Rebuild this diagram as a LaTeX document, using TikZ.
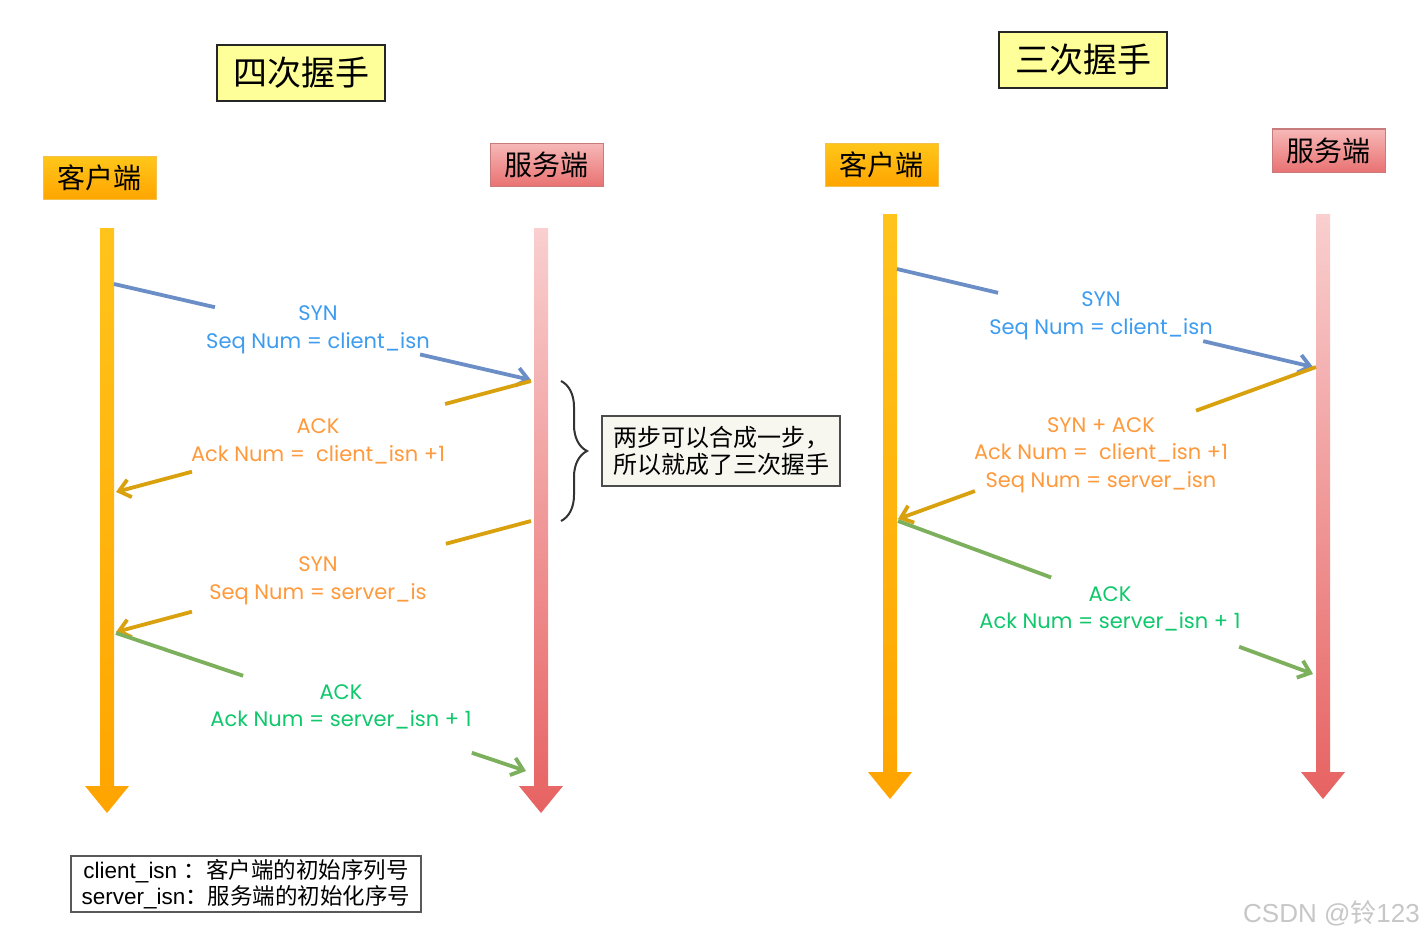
\documentclass[tikz,border=0pt]{standalone}
\usepackage{fontspec}
\setmainfont{Liberation Sans}
\newfontfamily\cjk{Noto Sans CJK SC}
\newfontfamily\hand{Poppins}
\usetikzlibrary{arrows.meta,decorations.pathreplacing,calc}
\definecolor{titley}{HTML}{FFFF99}
\definecolor{cltop}{HTML}{FFC61A}
\definecolor{clbot}{HTML}{FFA500}
\definecolor{clborder}{HTML}{F2C14E}
\definecolor{svtop}{HTML}{F7B8B8}
\definecolor{svbot}{HTML}{E97272}
\definecolor{svborder}{HTML}{C77B7B}
\definecolor{lltop}{HTML}{FFC41C}
\definecolor{llbot}{HTML}{FFA400}
\definecolor{sltop}{HTML}{F9CFCF}
\definecolor{slbot}{HTML}{E76262}
\definecolor{bline}{HTML}{6C8EC6}
\definecolor{btext}{HTML}{3D9CF0}
\definecolor{oline}{HTML}{D9A10E}
\definecolor{otext}{HTML}{FF9A3C}
\definecolor{gline}{HTML}{7DB05C}
\definecolor{gtext}{HTML}{10C86C}
\definecolor{notefill}{HTML}{F7F7F0}
\newcommand\lifelinearrow[6]{%
  \shade[top color=#5, bottom color=#6] (#1-7,#2) -- (#1+7,#2) -- (#1+7,#3) -- (#1+22,#3) -- (#1,#4) -- (#1-22,#3) -- (#1-7,#3) -- cycle;}
\tikzset{
  titlebox/.style={draw=black!85, line width=1.3pt, fill=titley, minimum width=168, minimum height=56, inner sep=0pt, font=\cjk\fontsize{34}{38}\selectfont},
  clientbox/.style={draw=clborder, line width=1pt, top color=cltop, bottom color=clbot, minimum width=113, minimum height=43, inner sep=0pt, font=\cjk\fontsize{28}{32}\selectfont},
  serverbox/.style={draw=svborder, line width=1pt, top color=svtop, bottom color=svbot, minimum width=113, minimum height=43, inner sep=0pt, font=\cjk\fontsize{28}{32}\selectfont},
  msg/.style={line width=3.8pt},
  tip/.style={-{Straight Barb[length=11pt,width=18pt]}},
  lbl/.style={align=center, inner sep=0pt, font=\hand\fontsize{21}{27.5}\selectfont},
  notebox/.style={draw=black!70, line width=1.2pt, fill=notefill, align=left, minimum width=238, minimum height=70, inner xsep=11pt, font=\cjk\fontsize{24}{27}\selectfont},
  legendbox/.style={draw=black!65, line width=1.2pt, fill=white, align=center, minimum width=350, minimum height=56, inner sep=0pt, font=\fontsize{22.5}{26}\selectfont},
  bracestyle/.style={decorate, decoration={brace, amplitude=26pt}, line width=2pt, draw=black!80}
}
\begin{document}
\begin{tikzpicture}[x=1pt,y=-1pt]
\useasboundingbox (0,0) rectangle (1423,939);
\fill[white] (0,0) rectangle (1423,939);

% titles and actor boxes
\node[titlebox] (t4) at (301,73) {四次握手};
\node[titlebox] (t3) at (1083,60) {三次握手};
\node[clientbox] (cl1) at (99.5,178) {客户端};
\node[serverbox] (sv1) at (546.5,164.5) {服务端};
\node[clientbox] (cl2) at (881.5,164.5) {客户端};
\node[serverbox] (sv2) at (1328.5,150.5) {服务端};

% lifelines
\lifelinearrow{107}{228}{786}{813}{lltop}{llbot}
\lifelinearrow{541}{228}{786}{813}{sltop}{slbot}
\lifelinearrow{890}{214}{772}{799}{lltop}{llbot}
\lifelinearrow{1323}{214}{772}{799}{sltop}{slbot}

% ---- four-way handshake ----
\coordinate (a1) at (114,284); \coordinate (b1) at (531,380);
\draw[msg,bline] (a1) -- ($(a1)!0.242!(b1)$);
\draw[msg,bline,tip] ($(a1)!0.734!(b1)$) -- (b1);
\node[lbl,text=btext] (l1) at (318,330) {SYN\\Seq Num = client\_isn};

\coordinate (a2) at (531,381); \coordinate (b2) at (116,492);
\draw[msg,oline] (a2) -- ($(a2)!0.207!(b2)$);
\draw[msg,oline,tip] ($(a2)!0.817!(b2)$) -- (b2);
\node[lbl,text=otext] (l2) at (318,441.5) {ACK\\Ack Num = \ client\_isn +1};

\coordinate (a3) at (531,521); \coordinate (b3) at (116,632);
\draw[msg,oline] (a3) -- ($(a3)!0.205!(b3)$);
\draw[msg,oline,tip] ($(a3)!0.817!(b3)$) -- (b3);
\node[lbl,text=otext] (l3) at (318,581) {SYN\\Seq Num = server\_is};

\coordinate (a4) at (116,633); \coordinate (b4) at (526,771);
\draw[msg,gline] (a4) -- ($(a4)!0.31!(b4)$);
\draw[msg,gline,tip] ($(a4)!0.868!(b4)$) -- (b4);
\node[lbl,text=gtext] (l4) at (341,707) {ACK\\Ack Num = server\_isn + 1};

% brace and note
\coordinate (br1) at (561,381); \coordinate (br2) at (561,521);
\draw[bracestyle] (br1) -- (br2);
\node[notebox] (note) at (721,451) {两步可以合成一步，\\所以就成了三次握手};

% ---- three-way handshake ----
\coordinate (c1) at (897,269); \coordinate (d1) at (1313,367);
\draw[msg,bline] (c1) -- ($(c1)!0.243!(d1)$);
\draw[msg,bline,tip] ($(c1)!0.736!(d1)$) -- (d1);
\node[lbl,text=btext] (r1) at (1101,316) {SYN\\Seq Num = client\_isn};

\coordinate (c2) at (1316,367); \coordinate (d2) at (898,519);
\draw[msg,oline] (c2) -- ($(c2)!0.287!(d2)$);
\draw[msg,oline,tip] ($(c2)!0.816!(d2)$) -- (d2);
\node[lbl,text=otext] (r2) at (1101,455) {SYN + ACK\\Ack Num = \ client\_isn +1\\Seq Num = server\_isn};

\coordinate (c3) at (898,521); \coordinate (d3) at (1313,674);
\draw[msg,gline] (c3) -- ($(c3)!0.369!(d3)$);
\draw[msg,gline,tip] ($(c3)!0.822!(d3)$) -- (d3);
\node[lbl,text=gtext] (r3) at (1110,609) {ACK\\Ack Num = server\_isn + 1};

% legend
\node[legendbox] (leg) at (246,884) {client\_isn {\cjk ：}{\cjk 客户端的初始序列号}\\server\_isn{\cjk ：服务端的初始化序号}};

% watermark
\node[text=black!22, font=\fontsize{26}{28}\selectfont, anchor=east, inner sep=0pt] (wm) at (1420,913) {CSDN @{\cjk 铃}123};
\end{tikzpicture}
\end{document}
